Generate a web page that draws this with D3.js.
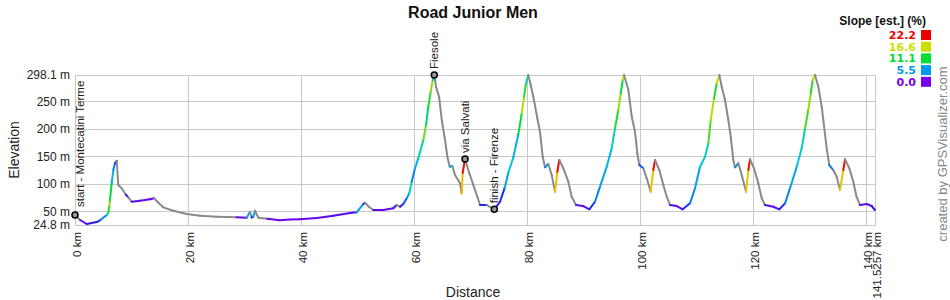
<!DOCTYPE html>
<html><head><meta charset="utf-8">
<script src="https://cdn.jsdelivr.net/npm/d3@7"></script>
<style>
body{margin:0;background:#fff}
svg{display:block}
text{font-family:"Liberation Sans",Arial,Helvetica,sans-serif}
</style>
</head><body>
<svg id="chart" width="950" height="300"></svg>
<script>
const chartTitle = "Road Junior Men";
const xTitle = "Distance";
const yTitle = "Elevation";
const legendTitle = "Slope [est.] (%)";
const credit = "created by GPSVisualizer.com";

// profile: distance (km), elevation (m), estimated slope (%) of the segment that starts at each point
const distKm = [
0,0.9,2.07,3.84,4.5,5.61,5.9,6.07,6.19,6.49,6.78,7.08,7.38,7.66,8.26,9.0,9.43,10.03,11.5,13.27,13.98,14.8,15.62,17.39,19.76,22.11,25.07,28.61,30.38,30.96,31.26,31.54,31.84,32.43,34.0,36.2,38.0,39.81,42.76,45.7,48.65,49.84,51.0,51.3,52.0,52.77,54.54,56.31,56.91,57.5,58.08,58.68,59.14,59.57,
60.15,60.73,61.62,62.1,62.5,62.93,63.28,63.56,63.87,64.41,64.88,65.46,65.87,66.29,66.76,67.23,68.11,68.41,68.59,69.0,69.76,70.47,71.18,71.65,72.84,74.18,
75.19,76.0,76.66,77.54,78.43,79.03,79.43,79.79,80.19,80.62,81.08,81.79,82.26,82.74,83.15,83.73,84.33,84.92,85.33,85.68,86.39,87.27,87.87,88.63,89.92,90.99,
91.99,92.88,94.06,94.95,95.53,96.12,96.54,96.9,97.13,97.89,98.49,99.07,99.48,99.83,100.54,101.14,101.85,102.31,102.61,103.37,104.08,104.68,105.27,106.45,107.51,
108.8,109.69,110.57,111.46,112.04,112.46,113.05,113.52,113.98,114.41,114.99,115.58,116.0,116.46,116.76,117.35,117.95,118.71,119.12,119.42,120.12,120.88,121.49,122.07,123.54,124.6,
125.61,126.49,127.68,128.56,129.15,129.73,130.16,130.51,130.91,131.5,132.1,132.38,132.98,133.44,134.15,134.75,135.34,135.92,136.22,136.98,137.69,138.26,138.88,140.06,140.94,141.5257];

const elevM = [
43,33.9,26.6,30.2,33.9,43,47,59.4,70.3,101,125,137.2,141.9,97.7,91.7,80,75.2,67.2,69.1,71.6,73.4,65,57,50.8,44.8,41.7,39.9,38.8,38.1,49,38.5,39.9,50.8,38.1,36.3,33.5,35,35.2,37.5,41.5,46.5,47.9,63,65.4,58,52.1,52.1,55.2,61.2,58.1,63,73.4,82.6,103.7,
128.1,146.3,179.7,207,240.3,267.7,289,298.1,276.8,258.6,216.1,179.7,149.2,131,132.2,115.9,100.8,82.6,120,145,119.1,97.7,76.3,61.2,61.2,53.4,
67.2,92,120,148,190,228.3,258.6,283,298.1,279.9,258.6,219.2,194.8,149.2,129.9,135.9,115.9,85.5,121.9,143.2,128.1,103.7,76.3,61.2,59.4,53.4,
67.2,94.6,131,164.5,201,234.3,264.8,289,298.1,270.8,222.1,194.8,155.4,134.1,128.1,109.9,85.5,125,143.2,125,97.7,76.3,61.2,59.4,53.4,
64.3,91.7,131,149.2,173.6,216.1,255.6,283,298.1,276.8,252.5,216.1,185.7,143.2,129.9,137.2,115.9,85.5,125,144.5,128.1,100.8,73.4,61.2,58.1,53.4,
64.3,91.7,131,164.5,201,234.3,264.8,289,298.1,276.8,240.3,216.1,164.5,134.1,125,112.8,88.6,125,144.5,128.1,103.7,76.3,61.2,63,59.4,52.1];

const slopePct = [
-1,0.5,2,3,5,8,12,15,11,7,5,3,-10,-3,-2,2,-2,1,0.5,1,-1,-1,-0.5,-0.3,-0.2,-0.1,-0.1,0.3,6,-5,1,6,-3,-0.3,0.3,0.4,0.2,0.5,0.8,1,1.5,6,2,-2,-1,0.3,0.5,2,-1,2,4,6,9,5,
7,9,14,10,12,15,8,-8,-5,-9,-6,-7,-4,6,-3,-2,-6,19,22,-4,-3,-3,-2,3,-0.5,2,
3,6,8,7,11,16,12,9,-5,-5,-6,-5,-9,-5,5,-3,-5,18,22,-2,-3,-5,-2,1,1,3,
5,6,7,9,12,15,11,17,-5,-8,-5,-9,-6,4,-3,-5,18,22,-2,-4,-4,-2,1,1,3,
5,6,8,9,13,16,12,17,-5,-5,-6,-7,-9,-4,5,-3,-4,18,22,-2,-4,-4,-2,1,1,3,
5,6,8,9,13,15,12,17,-5,-6,-8,-8,-6,5,-2,-4,18,22,-2,-4,-4,-2,1,1,2,0];

const yTicks = [24.8,50,100,150,200,250,298.1];
const xTicks = [0,20,40,60,80,100,120,140,141.5257];

const wpNames = ["start - Montecatini Terme","Fiesole","via Salvati","finish - Firenze"];
const wpKm = [0,63.56,69.0,74.18];
const wpElev = [43,298.1,145,53.4];

const legendValues = [22.2,16.6,11.1,5.5,0.0];
const legendColors = ["#ee0000","#ccdd00","#00dd33","#0099ee","#7700ee"];

const svg = d3.select("#chart");
svg.append("rect").attr("width",950).attr("height",300).attr("fill","#fff");

const x = d3.scaleLinear().domain([0,141.5257]).range([75,875]);
const y = d3.scaleLinear().domain([24.8,298.1]).range([225,75]);
const gridColor = "#c8c8c8";
const fontFam = "'Liberation Sans',Arial,sans-serif";

// y axis + horizontal grid
const gy = svg.append("g").attr("transform","translate(75,0)")
  .call(d3.axisLeft(y).tickValues(yTicks).tickSize(-800).tickPadding(5).tickFormat(d=>d+" m"));
gy.select(".domain").remove();
gy.selectAll(".tick line").attr("stroke",gridColor).attr("shape-rendering","crispEdges");
gy.selectAll(".tick text").attr("fill","#222").style("font-size","12px").style("font-family",fontFam);

// x axis + vertical grid
const gx = svg.append("g").attr("transform","translate(0,225)")
  .call(d3.axisBottom(x).tickValues(xTicks).tickSize(-150).tickFormat(d=>d+" km"));
gx.select(".domain").remove();
gx.selectAll(".tick line").attr("stroke",gridColor).attr("shape-rendering","crispEdges");
gx.selectAll(".tick text")
  .attr("transform","rotate(-90)").attr("x",-7).attr("y",1).attr("dy","0.35em")
  .style("text-anchor","end").attr("fill","#222").style("font-size","11.5px")
  .style("font-family",fontFam);

// frame
svg.append("rect").attr("x",75).attr("y",75).attr("width",800).attr("height",150)
  .attr("fill","none").attr("stroke",gridColor).attr("shape-rendering","crispEdges");

// slope colored profile
const slopeColor = d3.scaleLinear()
  .domain([0,2.75,5.5,8.3,11.1,16.6,19.4,22.2])
  .range(["#7700ee","#2020ee","#0099ee","#00ccdd","#00dd33","#ccdd00","#ffaa00","#ee0000"])
  .clamp(true);
const line = d3.line().x(d=>x(d[0])).y(d=>y(d[1]));
const segs = d3.range(distKm.length-1).map(i=>({
  pts:[[distKm[i],elevM[i]],[distKm[i+1],elevM[i+1]]], slope:slopePct[i]
}));
svg.append("g").selectAll("path").data(segs).join("path")
  .attr("d",d=>line(d.pts)).attr("fill","none")
  .attr("stroke",d=>d.slope<0?"#8a8a8a":slopeColor(d.slope))
  .attr("stroke-width",2).attr("stroke-linecap","round").attr("stroke-linejoin","round");

// waypoints
const wps = wpNames.map((n,i)=>({name:n,km:wpKm[i],el:wpElev[i]}));
const wg = svg.append("g");
wg.selectAll("circle").data(wps).join("circle")
  .attr("cx",d=>x(d.km)).attr("cy",d=>y(d.el)).attr("r",3)
  .attr("fill","#999").attr("stroke","#000").attr("stroke-width",1.5);
wg.selectAll("text").data(wps).join("text")
  .attr("transform",(d,i)=>`translate(${x(d.km)+(i===0?5:0)},${y(d.el)-(i===0?8:6)}) rotate(-90)`)
  .attr("dy","0.35em").attr("fill","#222").style("font-size","11.5px").text(d=>d.name);

// titles
svg.append("text").attr("x",473).attr("y",18).attr("text-anchor","middle")
  .style("font-size","16px").style("font-weight","bold").attr("fill","#111").text(chartTitle);
svg.append("text").attr("x",473).attr("y",297).attr("text-anchor","middle")
  .style("font-size","14px").attr("fill","#222").text(xTitle);
svg.append("text").attr("transform","translate(14,150) rotate(-90)").attr("dy","0.35em")
  .attr("text-anchor","middle").style("font-size","14px").attr("fill","#222").text(yTitle);

// legend
svg.append("text").attr("x",926).attr("y",25).attr("text-anchor","end")
  .style("font-size","12px").style("font-weight","bold").attr("fill","#111").text(legendTitle);
const lg = svg.append("g");
legendValues.forEach((v,i)=>{
  const yy = 30 + i*11.7;
  lg.append("rect").attr("x",921).attr("y",yy).attr("width",10).attr("height",10).attr("fill",legendColors[i]);
  lg.append("text").attr("x",916).attr("y",yy+8.8).attr("text-anchor","end")
    .style("font-family","'DejaVu Sans',Verdana,sans-serif").style("font-size","11px").style("font-weight","bold")
    .attr("fill",legendColors[i]).text(v.toFixed(1));
});

// credit
svg.append("text").attr("transform","translate(942,154) rotate(-90)").attr("dy","0.35em")
  .attr("text-anchor","middle").style("font-size","13px").attr("fill","#888").text(credit);
</script>
</body></html>
